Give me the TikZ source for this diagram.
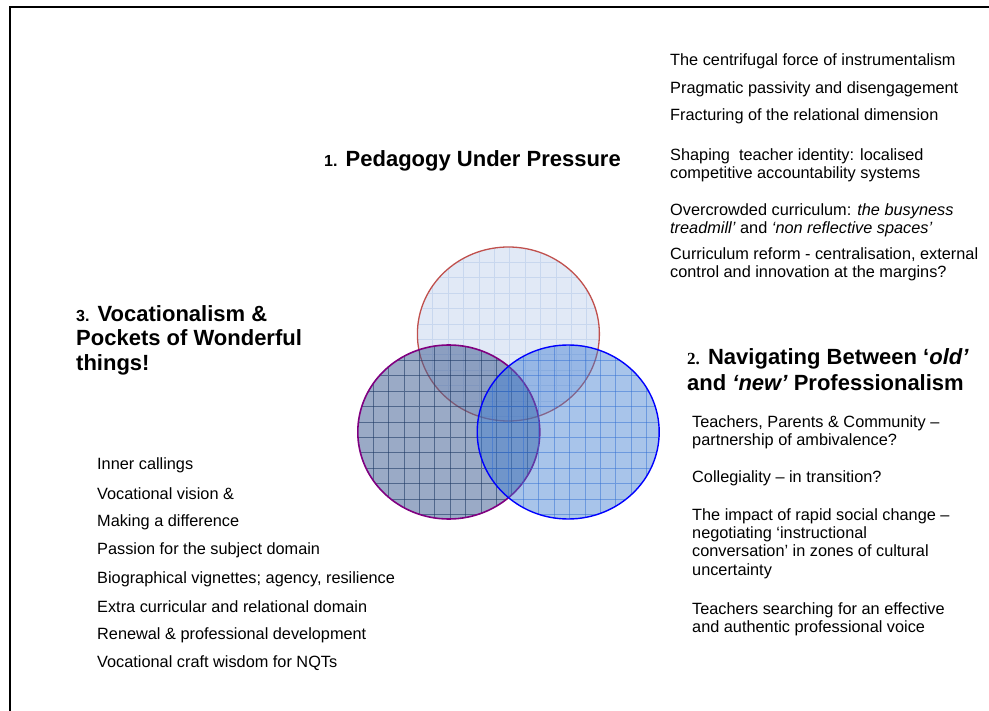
\documentclass[tikz,border=0pt]{standalone}
\usepackage{fontspec}
\setmainfont{Liberation Sans}
\newfontfamily\numserif{Liberation Serif}
\usetikzlibrary{shapes.geometric}

\definecolor{topfill}{RGB}{225,233,246}
\definecolor{topgrid}{RGB}{200,215,238}
\definecolor{topline}{RGB}{192,80,77}
\definecolor{leftfill}{RGB}{71,100,151}
\definecolor{leftgrid}{RGB}{31,58,102}
\definecolor{leftline}{RGB}{128,0,128}
\definecolor{rightfill}{RGB}{62,124,209}
\definecolor{rightgrid}{RGB}{50,110,210}
\definecolor{rightline}{RGB}{0,0,255}

\begin{document}
\begin{tikzpicture}[x=1pt,y=-1pt,
    blob/.style={ellipse,minimum width=182pt,minimum height=174pt,inner sep=0pt},
    mesh/.style={path picture={
      \foreach \k in {1,...,11}
        \draw[#1,line width=0.8pt]
          ([xshift=\k*15.4pt]path picture bounding box.north west) --
          ([xshift=\k*15.4pt]path picture bounding box.south west)
          ([yshift=-\k*15.4pt]path picture bounding box.north west) --
          ([yshift=-\k*15.4pt]path picture bounding box.north east);}},
    head/.style={anchor=west,inner sep=0pt,align=left,font=\fontsize{22}{25}\selectfont\bfseries},
    item/.style={anchor=west,inner sep=0pt,align=left,font=\fontsize{16.3}{18.3}\selectfont}]

  \useasboundingbox (0,0) rectangle (989,711);
  \draw[line width=2.3pt] (10,711) -- (10,6.8) -- (989,6.8);

  % the three circles
  \node[blob,fill=topfill,draw=topline,line width=1.3pt,mesh={topgrid}] (pressure c) at (508.4,334) {};
  \node[blob,fill=leftfill,fill opacity=0.55,draw=leftline,line width=1.6pt,
        mesh={leftgrid,draw opacity=0.6}] (vocation c) at (448.8,432) {};
  \node[blob,fill=rightfill,fill opacity=0.45,draw=rightline,line width=1.4pt,
        mesh={rightgrid,draw opacity=0.5}] (navigating c) at (568.2,432) {};

  % headings
  \node[head] (pressure) at (324,161) {{\fontsize{16}{25}\selectfont 1.} Pedagogy Under Pressure};
  \node[head,font=\fontsize{22}{26}\selectfont\bfseries] (navigating) at (687,370)
    {{\numserif\fontsize{17}{26}\selectfont 2.} Navigating Between ‘\textit{old’}\\
     and \textit{‘new’} Professionalism};
  \node[head,font=\fontsize{22}{24.5}\selectfont\bfseries] (vocation) at (76,340)
    {{\fontsize{16}{24.5}\selectfont 3.} Vocationalism \&\\ Pockets of Wonderful\\ things!};

  % 1. pedagogy under pressure
  \node[item] (p1) at (670,61) {The centrifugal force of instrumentalism};
  \node[item] (p2) at (670,89) {Pragmatic passivity and disengagement};
  \node[item] (p3) at (670,116) {Fracturing of the relational dimension};
  \node[item] (p4) at (670,165) {Shaping\ \ teacher identity: localised\\ competitive accountability systems};
  \node[item] (p5) at (670,220) {Overcrowded curriculum: \textit{the busyness}\\ \textit{treadmill’} and \textit{‘non reflective spaces’}};
  \node[item] (p6) at (670,264) {Curriculum reform - centralisation, external\\ control and innovation at the margins?};

  % 2. navigating
  \node[item] (n1) at (692,432) {Teachers, Parents \& Community –\\ partnership of ambivalence?};
  \node[item] (n2) at (692,478) {Collegiality – in transition?};
  \node[item] (n3) at (692,543.5) {The impact of rapid social change –\\ negotiating ‘instructional\\ conversation’ in zones of cultural\\ uncertainty};
  \node[item] (n4) at (692,619.5) {Teachers searching for an effective\\ and authentic professional voice};

  % 3. vocationalism
  \node[item] (v1) at (97,465) {Inner callings};
  \node[item] (v2) at (97,494) {Vocational vision \&};
  \node[item] (v3) at (97,522) {Making a difference};
  \node[item] (v4) at (97,550) {Passion for the subject domain};
  \node[item] (v5) at (97,579) {Biographical vignettes; agency, resilience};
  \node[item] (v6) at (97,607) {Extra curricular and relational domain};
  \node[item] (v7) at (97,635) {Renewal \& professional development};
  \node[item] (v8) at (97,663) {Vocational craft wisdom for NQTs};
\end{tikzpicture}
\end{document}
